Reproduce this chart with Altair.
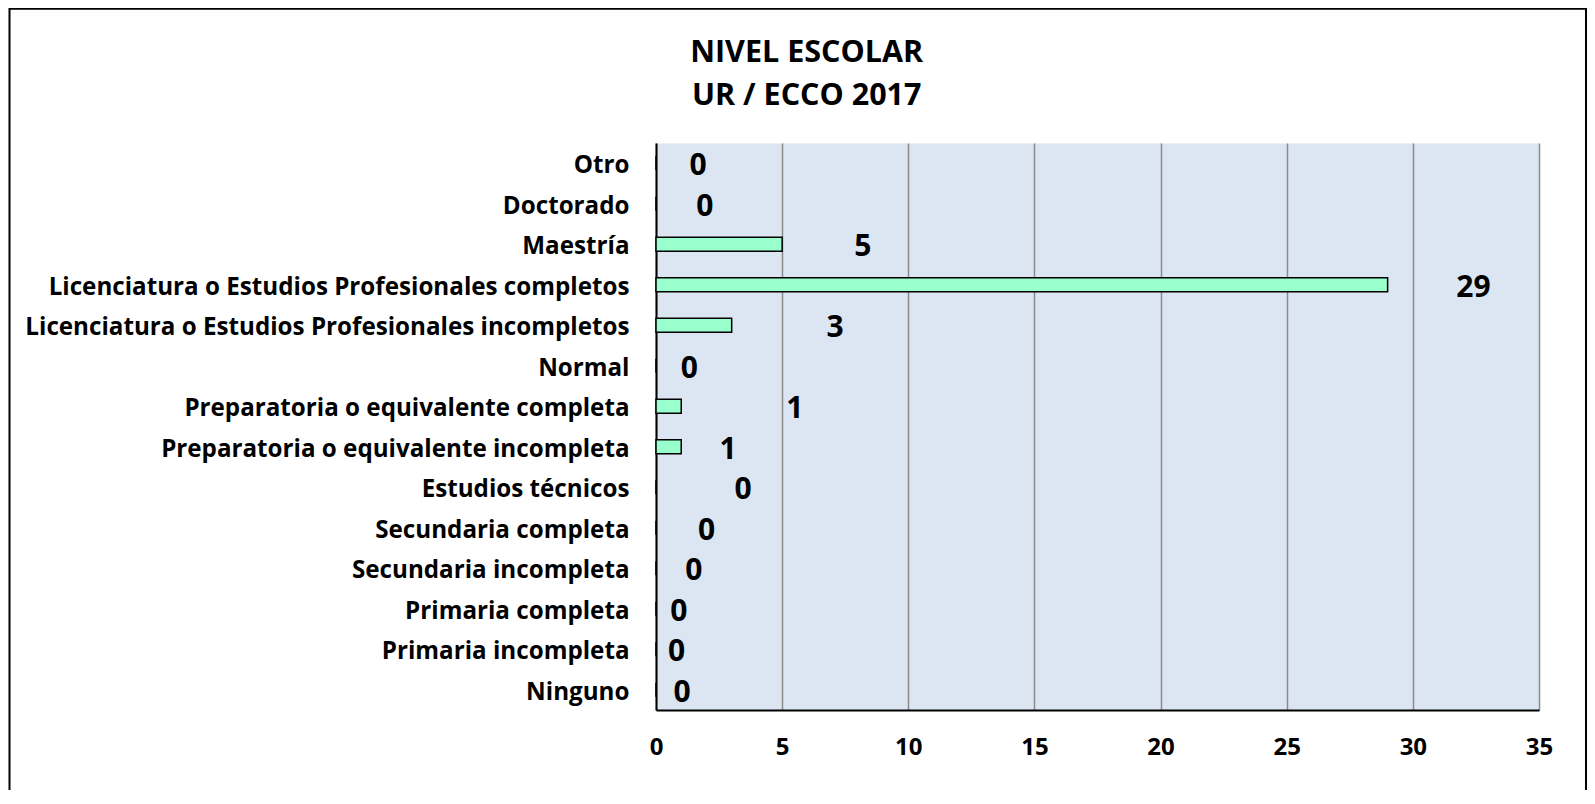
import altair as alt
import pandas as pd

categories = [
    "Otro",
    "Doctorado",
    "Maestría",
    "Licenciatura o Estudios Profesionales completos",
    "Licenciatura o Estudios Profesionales incompletos",
    "Normal",
    "Preparatoria o equivalente completa",
    "Preparatoria o equivalente incompleta",
    "Estudios técnicos",
    "Secundaria completa",
    "Secundaria incompleta",
    "Primaria completa",
    "Primaria incompleta",
    "Ninguno",
]
values = [0, 0, 5, 29, 3, 0, 1, 1, 0, 0, 0, 0, 0, 0]
# where each data label sits along the value axis
label_x = [1.67, 1.94, 8.2, 32.4, 7.1, 1.32, 5.5, 2.86, 3.45, 2.0, 1.5, 0.9, 0.82, 1.03]
x_ticks = [0, 5, 10, 15, 20, 25, 30, 35]
title_lines = ["NIVEL ESCOLAR", "UR / ECCO 2017"]

df = pd.DataFrame({"cat": categories, "val": values, "lx": label_x})
title_df = pd.DataFrame({"t": title_lines, "line": [0, 1]})

FONT = "Open Sans"
W, H = 883, 567

y_enc = alt.Y(
    "cat:N",
    sort=None,
    title=None,
    axis=alt.Axis(
        labelFont=FONT,
        labelFontWeight="bold",
        labelFontSize=24.2,
        labelColor="black",
        labelLimit=800,
        labelPadding=27,
        labelOffset=3,
        ticks=False,
        domainColor="black",
        domainWidth=2,
        grid=False,
    ),
    scale=alt.Scale(paddingInner=0.6, paddingOuter=0.3),
)

bars = alt.Chart(df).mark_bar(
    color="#99FFCC", stroke="black", strokeWidth=1.5, size=14
).encode(
    x=alt.X(
        "val:Q",
        title=None,
        scale=alt.Scale(domain=[0, 35], nice=False),
        axis=alt.Axis(
            values=x_ticks,
            labelFont=FONT,
            labelFontWeight="bold",
            labelFontSize=24,
            labelColor="black",
            labelPadding=25,
            labelFlush=False,
            ticks=False,
            domainColor="black",
            domainWidth=2,
            grid=True,
            gridColor="#8a8a8a",
            gridWidth=1.5,
        ),
    ),
    y=y_enc,
)

labels = alt.Chart(df).mark_text(
    font=FONT, fontWeight="bold", fontSize=30, color="black",
    align="center", baseline="middle", dy=3
).encode(
    x=alt.X("lx:Q"),
    y=alt.Y("cat:N", sort=None),
    text=alt.Text("val:Q"),
)

title1 = alt.Chart(title_df.iloc[[0]]).mark_text(
    font=FONT, fontWeight="bold", fontSize=30.5, color="black",
    align="center", baseline="alphabetic"
).encode(text="t:N", x=alt.value(150.7), y=alt.value(-81.3))

title2 = alt.Chart(title_df.iloc[[1]]).mark_text(
    font=FONT, fontWeight="bold", fontSize=30.5, color="black",
    align="center", baseline="alphabetic"
).encode(text="t:N", x=alt.value(150.7), y=alt.value(-38))

frame = alt.Chart(pd.DataFrame({"a": [0]})).mark_rect(
    filled=False, stroke="black", strokeWidth=2
).encode(
    x=alt.value(-646.5), x2=alt.value(930),
    y=alt.value(-134.2), y2=alt.value(700),
)

chart = alt.layer(bars, labels, title1, title2, frame).properties(
    width=W,
    height=H,
    padding={"left": 648, "top": 135, "right": 48, "bottom": 80},
    autosize=alt.AutoSizeParams(type="none"),
).configure(
    background="white",
    view=alt.ViewConfig(fill="#DCE6F2", stroke="transparent"),
)

chart.save("out.html", embed_options={"renderer": "svg", "actions": False})
